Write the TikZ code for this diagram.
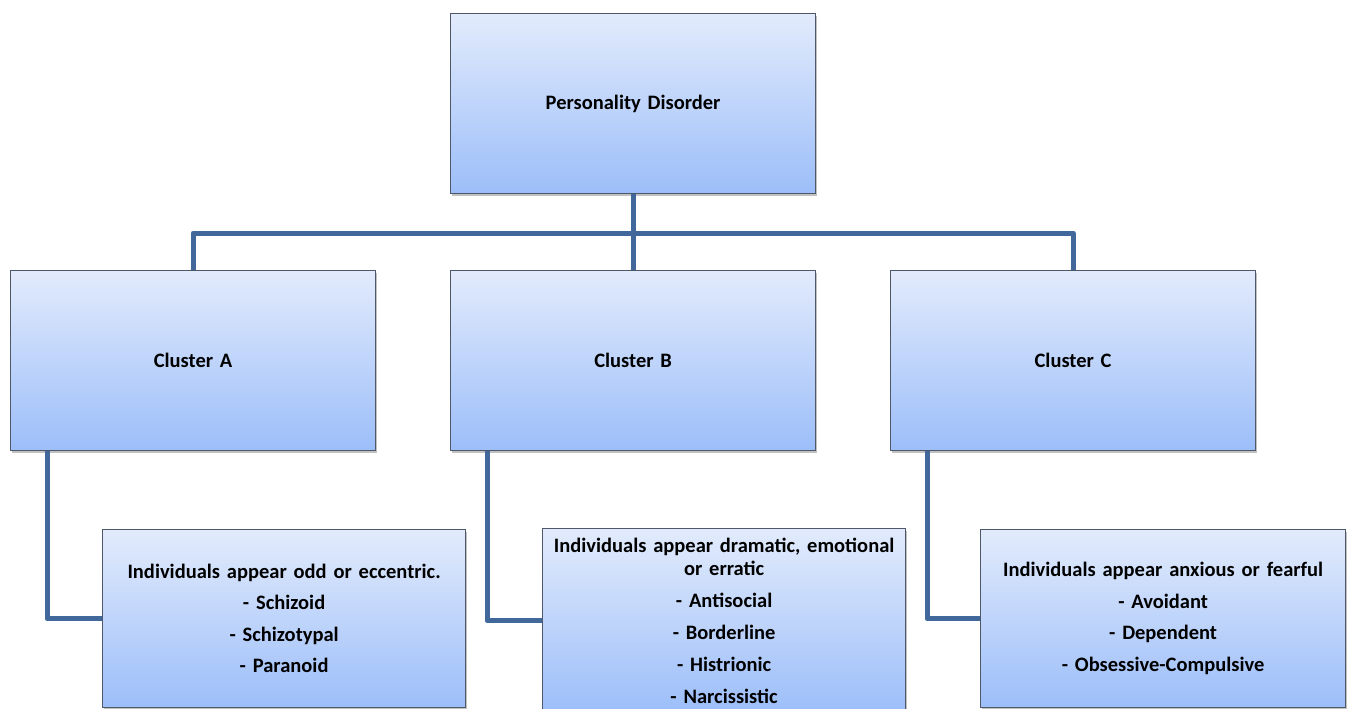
\documentclass[tikz,border=0pt]{standalone}
\usepackage{fontspec}
\setmainfont{Carlito}
\usetikzlibrary{shadows}
\definecolor{boxtop}{RGB}{226,235,252}
\definecolor{boxbot}{RGB}{156,190,249}
\definecolor{boxline}{RGB}{78,88,104}
\definecolor{connc}{RGB}{65,104,154}
\begin{document}
\begin{tikzpicture}[x=1pt,y=-1pt,
  box/.style={draw=boxline, line width=1.2pt, top color=boxtop, bottom color=boxbot,
    anchor=north west, inner sep=0pt, align=center,
    font=\fontsize{20.5}{23}\selectfont\bfseries,
    drop shadow={shadow xshift=1.5pt, shadow yshift=-2.5pt, opacity=0.35, fill=black!70}},
  bigbox/.style={box, text width=365pt, minimum height=180pt},
  leafbox/.style={box, text width=363pt, minimum height=178pt},
  conn/.style={draw=connc, line width=5pt, line join=round}]
\useasboundingbox (0,0) rectangle (1347,709);
\clip (0,0) rectangle (1347,709);
\node[bigbox] (top) at (450,13) {Personality Disorder};
\node[bigbox] (A) at (10,270) {Cluster A};
\node[bigbox] (B) at (450,270) {Cluster B};
\node[bigbox] (C) at (890,270) {Cluster C};
\node[leafbox] (LA) at (102,529) {Individuals appear odd or eccentric.\\[8.5pt] - Schizoid\\[8.5pt] - Schizotypal\\[8.5pt] - Paranoid};
\node[leafbox, minimum height=184pt] (LB) at (542,528) {Individuals appear dramatic, emotional\\ or erratic\\[9pt] - Antisocial\\[9pt] - Borderline\\[9pt] - Histrionic\\[9pt] - Narcissistic};
\node[leafbox, text width=365pt] (LC) at (980,529) {Individuals appear anxious or fearful\\[8.5pt] - Avoidant\\[8.5pt] - Dependent\\[8.5pt] - Obsessive-Compulsive};
\coordinate (bus) at (632,233);
\draw[conn] (top.south) -- (B.north);
\draw[conn] (A.north) |- (bus) -| (C.north);
\draw[conn] ([xshift=37pt]A.south west) |- (LA.west);
\draw[conn] ([xshift=37pt]B.south west) |- (LB.west);
\draw[conn] ([xshift=37pt]C.south west) |- (LC.west);
\end{tikzpicture}
\end{document}
